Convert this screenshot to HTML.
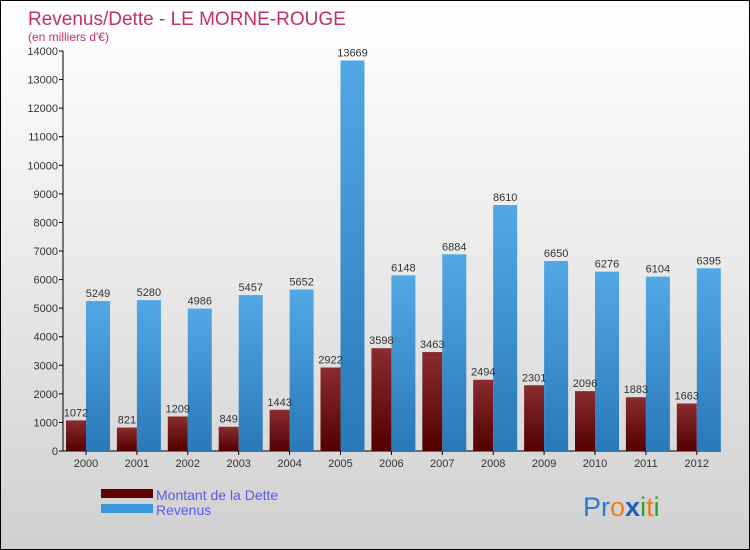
<!DOCTYPE html>
<html><head><meta charset="utf-8"><style>
body{margin:0;}
#wrap{width:748px;height:548px;border:1px solid #000;position:relative;overflow:hidden;background:linear-gradient(#ffffff 0%,#ebebeb 45%,#d0d0d0 100%);font-family:"Liberation Sans",sans-serif;}
svg{position:absolute;left:0;top:0;}
</style></head><body>
<div id="wrap">
<svg id="chart" width="750" height="550">
<defs>
<linearGradient id="gd" x1="0" y1="0" x2="0" y2="1"><stop offset="0" stop-color="#8a2c30"/><stop offset="1" stop-color="#520000"/></linearGradient>
<linearGradient id="gr" x1="0" y1="0" x2="0" y2="1"><stop offset="0" stop-color="#52a8e4"/><stop offset="1" stop-color="#2a78b8"/></linearGradient>
</defs>
<text x="27" y="24" font-size="19" fill="#c0306a">Revenus/Dette - LE MORNE-ROUGE</text>
<text x="27" y="40" font-size="12" fill="#c0306a">(en milliers d'€)</text>
<g id="axes"></g>
<g id="bars"></g>
<g>
<rect x="100" y="488" width="52" height="9" fill="#600000"/>
<text x="155" y="499" font-size="14" fill="#5a5ae8">Montant de la Dette</text>
<rect x="100" y="503" width="52" height="9" fill="#3898dc"/>
<text x="155" y="514" font-size="14" fill="#5a5ae8">Revenus</text>
</g>
<text x="582" y="515" font-size="27"><tspan fill="#2a7ad0">Pr</tspan><tspan fill="#f08010">o</tspan><tspan fill="#1a60c0" font-weight="bold">x</tspan><tspan fill="#30a030">i</tspan><tspan fill="#f08010">t</tspan><tspan fill="#30a030">i</tspan></text>
</svg>
</div>
<script>
const years=["2000","2001","2002","2003","2004","2005","2006","2007","2008","2009","2010","2011","2012"];
const dette=[1072,821,1209,849,1443,2922,3598,3463,2494,2301,2096,1883,1663];
const revenus=[5249,5280,4986,5457,5652,13669,6148,6884,8610,6650,6276,6104,6395];
const ticks=[0,1000,2000,3000,4000,5000,6000,7000,8000,9000,10000,11000,12000,13000,14000];
const NS="http://www.w3.org/2000/svg";
const y=v=>450-v*400/14000;
const xc=i=>85+i*50.9;
function mk(t,a,p){const e=document.createElementNS(NS,t);for(const k in a)e.setAttribute(k,a[k]);p.appendChild(e);return e;}
const ax=document.getElementById('axes'),bg=document.getElementById('bars');
let l=mk('line',{x1:62,y1:y(14000),x2:62,y2:450,stroke:'#000'},ax);


l=mk('line',{x1:62,y1:450,x2:720,y2:450,stroke:'#000'},ax);


ticks.forEach(t=>{
 mk('line',{x1:58,x2:62,y1:y(t),y2:y(t),stroke:'#000'},ax);
 const tx=mk('text',{x:57,y:y(t)+4,'font-size':11,fill:'#333','text-anchor':'end'},ax);tx.textContent=t;
 
 
});
years.forEach((yr,i)=>{
 const c=xc(i);
 mk('line',{x1:c,x2:c,y1:450,y2:454,stroke:'#000'},ax);
 const tx=mk('text',{x:c,y:466,'font-size':11,fill:'#333','text-anchor':'middle'},ax);tx.textContent=yr;
 
 
 const d=mk('rect',{x:c-20,y:y(dette[i]),width:20,height:450-y(dette[i]),fill:'url(#gd)'},bg);
 
 
 const r=mk('rect',{x:c,y:y(revenus[i]),width:24,height:450-y(revenus[i]),fill:'url(#gr)'},bg);
 
 
 const ld=mk('text',{x:c-10,y:y(dette[i])-4,'font-size':11,fill:'#333','text-anchor':'middle'},bg);ld.textContent=dette[i];
 
 
 const lr=mk('text',{x:c+12,y:y(revenus[i])-4,'font-size':11,fill:'#333','text-anchor':'middle'},bg);lr.textContent=revenus[i];
 
 
});
</script>
</body></html>
